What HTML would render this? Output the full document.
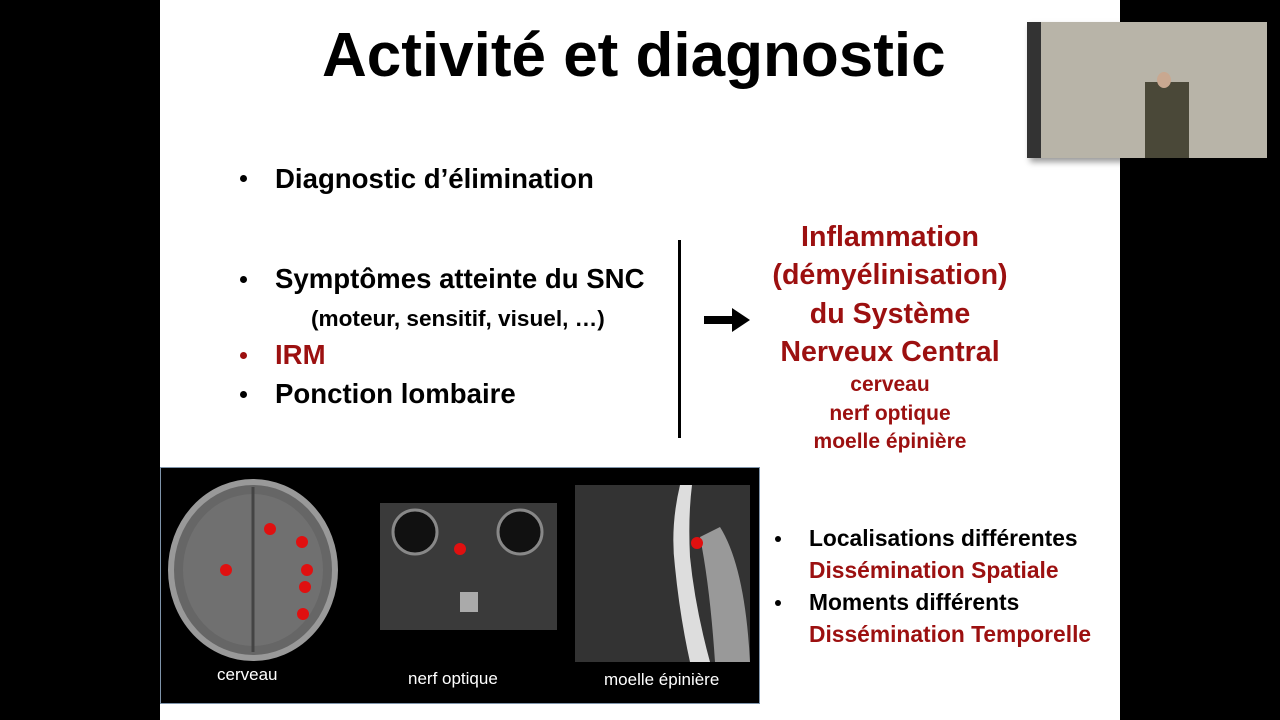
<!DOCTYPE html>
<html><head><meta charset="utf-8"><style>
body{margin:0;width:1280px;height:720px;background:#000;position:relative;overflow:hidden;font-family:"Liberation Sans",sans-serif;font-weight:bold}
.slide{position:absolute;left:160px;top:0;width:960px;height:720px;background:#fff}
.t{position:absolute;white-space:nowrap;line-height:1}
.r{color:#9c1010}
.c{text-align:center;width:320px;left:730px}
.dot{position:absolute;width:7px;height:7px;border-radius:50%;background:#000}
</style></head><body>
<div class="slide"></div>
<div class="t" style="left:322px;top:25px;font-size:62px">Activité et diagnostic</div>
<div class="dot" style="left:240px;top:175px"></div>
<div class="t" style="left:275px;top:165px;font-size:27.6px">Diagnostic d’élimination</div>
<div class="dot" style="left:240px;top:276px"></div>
<div class="t" style="left:275px;top:265px;font-size:27.6px">Symptômes atteinte du SNC</div>
<div class="t" style="left:311px;top:308px;font-size:22.6px">(moteur, sensitif, visuel, …)</div>
<div class="dot" style="left:240px;top:352px;background:#9c1010"></div>
<div class="t r" style="left:275px;top:341px;font-size:27.6px">IRM</div>
<div class="dot" style="left:240px;top:391px"></div>
<div class="t" style="left:275px;top:380px;font-size:27.6px">Ponction lombaire</div>
<div style="position:absolute;left:678px;top:240px;width:3px;height:198px;background:#000"></div>
<svg style="position:absolute;left:704px;top:306px" width="48" height="28"><path d="M0 10H28V2L46 14L28 26V18H0Z" fill="#000"/></svg>
<div class="t r c" style="top:218px;font-size:28.6px;line-height:38.3px">Inflammation<br>(démyélinisation)<br>du Système<br>Nerveux Central</div>
<div class="t r c" style="top:371px;font-size:21px;line-height:28.5px">cerveau<br>nerf optique<br>moelle épinière</div>
<div style="position:absolute;left:160px;top:467px;width:598px;height:235px;background:#000;border:1px solid #7f94aa"></div>
<svg style="position:absolute;left:160px;top:467px" width="600" height="236">
<ellipse cx="93" cy="103" rx="82" ry="88" fill="#666" stroke="#999" stroke-width="6"/>
<ellipse cx="93" cy="103" rx="70" ry="76" fill="#707070"/>
<line x1="93" y1="20" x2="93" y2="185" stroke="#444" stroke-width="3"/>
<g fill="#e01010"><circle cx="110" cy="62" r="6"/><circle cx="142" cy="75" r="6"/><circle cx="66" cy="103" r="6"/><circle cx="147" cy="103" r="6"/><circle cx="145" cy="120" r="6"/><circle cx="143" cy="147" r="6"/></g>
<rect x="220" y="36" width="177" height="127" fill="#3a3a3a"/>
<circle cx="255" cy="65" r="22" fill="#111" stroke="#888" stroke-width="3"/>
<circle cx="360" cy="65" r="22" fill="#111" stroke="#888" stroke-width="3"/>
<rect x="300" y="125" width="18" height="20" fill="#aaa"/>
<circle cx="300" cy="82" r="6" fill="#e01010"/>
<rect x="415" y="18" width="175" height="177" fill="#333"/>
<path d="M520 18 Q510 60 515 100 Q520 150 530 195 L550 195 Q535 140 530 90 Q528 50 532 18Z" fill="#ddd"/>
<path d="M560 60 Q585 100 590 195 L555 195 Q550 120 540 70Z" fill="#999"/>
<circle cx="537" cy="76" r="6" fill="#e01010"/>
</svg>
<div class="t" style="left:217px;top:666px;font-size:17px;font-weight:normal;color:#fff">cerveau</div>
<div class="t" style="left:408px;top:670px;font-size:17px;font-weight:normal;color:#fff">nerf optique</div>
<div class="t" style="left:604px;top:671px;font-size:17px;font-weight:normal;color:#fff">moelle épinière</div>
<div class="dot" style="left:775px;top:536px;width:6px;height:6px"></div>
<div class="t" style="left:809px;top:527px;font-size:22.8px">Localisations différentes</div>
<div class="t r" style="left:809px;top:559px;font-size:22.8px">Dissémination Spatiale</div>
<div class="dot" style="left:775px;top:600px;width:6px;height:6px"></div>
<div class="t" style="left:809px;top:591px;font-size:22.8px">Moments différents</div>
<div class="t r" style="left:809px;top:623px;font-size:22.8px">Dissémination Temporelle</div>
<div style="position:absolute;left:1027px;top:22px;width:240px;height:136px;background:#b8b4a8;box-shadow:3px 4px 6px rgba(0,0,0,.4)">
<div style="position:absolute;left:0;top:0;width:14px;height:136px;background:#333"></div>
<div style="position:absolute;left:118px;top:60px;width:44px;height:76px;background:#4a4838"></div>
<div style="position:absolute;left:130px;top:50px;width:14px;height:16px;border-radius:50%;background:#c9a890"></div>
</div>
</body></html>
